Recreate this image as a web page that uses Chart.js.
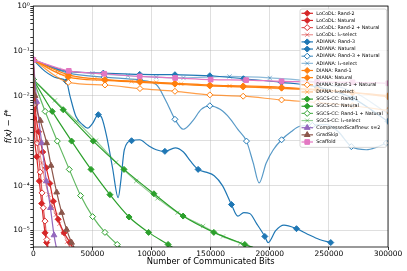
<!DOCTYPE html>
<html>
<head>
<meta charset="utf-8">
<script src="https://cdn.jsdelivr.net/npm/chart.js@4.4.1/dist/chart.umd.min.js"></script>
<style>
  html, body { margin: 0; padding: 0; background: #fff; }
  canvas { display: block; }
</style>
</head>
<body>
<canvas id="chart" width="407" height="271"></canvas>
<script>
// axis ticks
const xTicks = [0, 50000, 100000, 150000, 200000, 250000, 300000];
const yMin = 4.3e-6;
const yMax = 1;

const labels = [
  'LoCoDL: Rand-2', 'LoCoDL: Natural', 'LoCoDL: Rand-2 + Natural', 'LoCoDL: l\u2081-select',
  'ADIANA: Rand-3', 'ADIANA: Natural', 'ADIANA: Rand-3 + Natural', 'ADIANA: l\u2081-select',
  'DIANA: Rand-1', 'DIANA: Natural', 'DIANA: Rand-1 + Natural', 'DIANA: l\u2081-select',
  'SGCS-CC: Rand-1', 'SGCS-CC: Natural', 'SGCS-CC: Rand-1 + Natural', 'SGCS-CC: l\u2081-select',
  'CompressedScaffnew: s=2', 'GradSkip', 'Scaffold'
];

// LoCoDL
const locodlRandX = [0, 600, 2900, 5100, 7100, 9900, 11300, 12000];
const locodlRandY = [6.3e-2, 3.2e-3, 4.4e-4, 1.26e-4, 4.0e-5, 8.9e-6, 5.4e-6, 4.0e-6];
const locodlNatX = [0, 1500, 4500, 8000, 11000, 14000, 17000, 21000, 26000, 31000, 34000];
const locodlNatY = [6.3e-2, 6.3e-3, 1.58e-3, 5.6e-4, 2.5e-4, 1.12e-4, 4.5e-5, 1.78e-5, 8.9e-6, 5.4e-6, 3.8e-6];
const locodlBothX = [0, 800, 3400, 5900, 7400, 8500, 9900, 11500, 12700];
const locodlBothY = [6.3e-2, 6.3e-3, 8.9e-4, 2.0e-4, 6.9e-5, 3.2e-5, 1.62e-5, 6.3e-6, 4.0e-6];
const locodlL1X = [0, 1200, 4000, 7000, 10000, 13000, 16000, 19000, 22000, 25400, 28500, 31500];
const locodlL1Y = [6.3e-2, 5.0e-3, 1.0e-3, 3.2e-4, 1.26e-4, 6.3e-5, 3.5e-5, 2.24e-5, 1.41e-5, 8.9e-6, 5.6e-6, 4.0e-6];

// ADIANA
const adianaRandX = [0, 30000, 59200, 90000, 119800, 149300, 177700, 210000, 240000, 270000, 300000];
const adianaRandY = [6.3e-2, 3.5e-2, 3.2e-2, 3.0e-2, 2.95e-2, 2.8e-2, 2.4e-2, 2.0e-2, 1.58e-2, 8.9e-3, 2.7e-3];
const adianaNatX = [0, 10000, 20000, 28000, 31000, 36000, 42000, 46000, 50000, 55000, 58000, 62000, 67000, 71800,
  74000, 77000, 83100, 90000, 97000, 104000, 111300, 120000, 127000, 133000, 139400, 146000, 153000, 160000,
  167600, 173000, 178000, 183000, 189000, 195800, 198600, 205000, 212000, 222600, 232000, 242000, 251600];
const adianaNatY = [6.3e-2, 3.5e-2, 2.5e-2, 2.1e-2, 1.0e-2, 3.5e-3, 2.24e-3, 1.9e-3, 2.4e-3, 3.8e-3, 3.2e-3, 1.26e-3, 2.5e-4, 5.4e-5,
  1.26e-4, 6.3e-4, 1.0e-3, 1.05e-3, 7.9e-4, 6.3e-4, 5.8e-4, 6.9e-4, 5.6e-4, 3.5e-4, 2.3e-4, 2.0e-4, 1.66e-4, 1.0e-4,
  3.8e-5, 2.1e-5, 2.5e-5, 2.4e-5, 1.41e-5, 7.4e-6, 5.4e-6, 1.0e-5, 1.32e-5, 1.1e-5, 8.3e-6, 6.3e-6, 5.4e-6];
const adianaBothX = [0, 30000, 60000, 90000, 104000, 112000, 119800, 126800, 135000, 142000, 149300, 158000, 166000,
  173000, 180300, 186000, 191000, 197000, 203000, 210000, 218000, 225300, 236000, 248000, 258000, 269000, 281700, 290000, 298600];
const adianaBothY = [6.3e-2, 3.2e-2, 2.6e-2, 2.24e-2, 1.78e-2, 7.9e-3, 3.0e-3, 1.8e-3, 2.8e-3, 5.0e-3, 6.0e-3, 5.0e-3, 3.2e-3,
  1.78e-3, 9.8e-4, 3.2e-4, 1.15e-4, 3.2e-4, 6.3e-4, 1.05e-3, 1.58e-3, 2.1e-3, 2.2e-3, 2.3e-3, 1.58e-3, 7.4e-4, 6.3e-4, 7.1e-4, 8.9e-4];
const adianaL1X = [0, 21000, 50000, 80000, 104000, 127000, 166000, 200000, 240000, 270000, 300000];
const adianaL1Y = [6.3e-2, 3.8e-2, 3.2e-2, 2.8e-2, 2.6e-2, 2.5e-2, 2.7e-2, 2.5e-2, 2.0e-2, 1.26e-2, 4.0e-3];

// DIANA
const dianaX = [0, 29600, 60600, 90200, 119800, 149300, 177500, 210000, 240000, 270000, 300000];
const dianaRandY = [6.3e-2, 2.95e-2, 2.3e-2, 2.1e-2, 1.9e-2, 1.74e-2, 1.66e-2, 1.55e-2, 1.38e-2, 1.2e-2, 1.0e-2];
const dianaNatY = [6.3e-2, 2.6e-2, 2.2e-2, 2.0e-2, 1.82e-2, 1.66e-2, 1.58e-2, 1.48e-2, 1.35e-2, 1.17e-2, 9.5e-3];
const dianaBothY = [6.3e-2, 2.0e-2, 1.74e-2, 1.45e-2, 1.26e-2, 1.05e-2, 9.8e-3, 8.1e-3, 7.1e-3, 6.0e-3, 4.7e-3];
const dianaL1X = [0, 21000, 52000, 83100, 104000, 125000, 166000, 200000, 240000, 270000, 300000];
const dianaL1Y = [6.3e-2, 3.2e-2, 2.4e-2, 2.1e-2, 2.0e-2, 1.86e-2, 1.66e-2, 1.48e-2, 1.32e-2, 1.17e-2, 1.02e-2];

// SGCS-CC
const sgcsRandX = [0, 25300, 50700, 76700, 102000, 126700, 152700, 178900, 186000];
const sgcsRandY = [2.3e-2, 4.9e-3, 9.8e-4, 2.3e-4, 6.6e-5, 2.1e-5, 9.1e-6, 4.9e-6, 4.2e-6];
const sgcsNatX = [0, 16000, 32400, 48800, 64800, 81000, 97500, 114000, 118000];
const sgcsNatY = [2.3e-2, 4.5e-3, 9.8e-4, 2.3e-4, 6.3e-5, 2.0e-5, 9.1e-6, 4.9e-6, 4.2e-6];
const sgcsBothX = [0, 10000, 20300, 30400, 40000, 50200, 60600, 71000, 74000];
const sgcsBothY = [2.3e-2, 4.5e-3, 9.8e-4, 2.3e-4, 6.0e-5, 2.04e-5, 9.1e-6, 4.9e-6, 4.2e-6];
const sgcsL1X = [0, 18300, 36600, 53000, 70000, 87000, 105000, 122000, 143600, 160500, 175000, 186000];
const sgcsL1Y = [2.3e-2, 7.9e-3, 2.7e-3, 1.0e-3, 3.3e-4, 1.26e-4, 5.2e-5, 2.5e-5, 1.26e-5, 7.4e-6, 5.2e-6, 4.2e-6];

// others
const scaffnewX = [0, 2900, 7100, 11000, 14500, 17500, 19800];
const scaffnewY = [6.3e-2, 7.4e-3, 8.9e-4, 1.26e-4, 3.2e-5, 7.9e-6, 3.8e-6];
const gradskipX = [0, 1500, 6000, 11300, 15000, 19800, 24000, 28200, 32400, 35500];
const gradskipY = [6.3e-2, 1.0e-2, 2.8e-3, 8.9e-4, 2.8e-4, 7.1e-5, 2.5e-5, 1.05e-5, 5.4e-6, 3.8e-6];
const scaffoldX = [0, 30000, 60000, 90000, 120000, 150000, 180000, 210000, 240000, 270000, 300000];
const scaffoldY = [6.3e-2, 3.6e-2, 3.1e-2, 2.7e-2, 2.5e-2, 2.3e-2, 2.24e-2, 2.1e-2, 2.04e-2, 2.0e-2, 1.9e-2];

// which points carry a marker
const adianaNatMarks = [0, 3, 9, 16, 20, 24, 28, 33, 37, 40];
const adianaBothMarks = [0, 1, 2, 3, 6, 10, 14, 19, 22, 25, 28];

const RED = '#d62728', BLUE = '#1f77b4', ORANGE = '#ff7f0e', GREEN = '#2ca02c';
const PURPLE = '#9467bd', BROWN = '#8c564b', PINK = '#e377c2';

function rgba(hex, a) {
  const n = parseInt(hex.slice(1), 16);
  return `rgba(${n >> 16},${(n >> 8) & 255},${n & 255},${a})`;
}

const kinds = {
  rand:   c => ({ pointStyle: 'rectRot', r: 3, fill: c, edge: c, line: c }),
  nat:    c => ({ pointStyle: 'rectRot', r: 3, fill: c, edge: c, line: c }),
  both:   c => ({ pointStyle: 'rectRot', r: 3, fill: '#fff', edge: c, line: rgba(c, 0.75) }),
  l1:     c => ({ pointStyle: 'crossRot', r: 3, fill: rgba(c, 0.5), edge: rgba(c, 0.5), line: rgba(c, 0.5) }),
  star:   c => ({ pointStyle: 'triangle', r: 3.3, fill: c, edge: c, line: c }),
  square: c => ({ pointStyle: 'rect', r: 3.3, fill: c, edge: c, line: c })
};

function makeSet(i, xs, ys, color, kind, marks) {
  const k = kinds[kind](color);
  const keep = marks || xs.map((_, j) => j).filter(j => ys[j] >= yMin);
  return {
    label: labels[i],
    data: xs.map((x, j) => ({ x, y: ys[j] })),
    borderColor: k.line,
    borderWidth: 1.2,
    pointStyle: k.pointStyle,
    legendRadius: k.r,
    pointRadius: ctx => keep.includes(ctx.dataIndex) ? k.r : 0,
    pointHoverRadius: 0,
    pointBackgroundColor: k.fill,
    pointBorderColor: k.edge,
    pointBorderWidth: 1,
    cubicInterpolationMode: 'monotone',
    fill: false,
    order: labels.length - i
  };
}

const datasets = [
  makeSet(0, locodlRandX, locodlRandY, RED, 'rand'),
  makeSet(1, locodlNatX, locodlNatY, RED, 'nat'),
  makeSet(2, locodlBothX, locodlBothY, RED, 'both'),
  makeSet(3, locodlL1X, locodlL1Y, RED, 'l1'),
  makeSet(4, adianaRandX, adianaRandY, BLUE, 'rand'),
  makeSet(5, adianaNatX, adianaNatY, BLUE, 'nat', adianaNatMarks),
  makeSet(6, adianaBothX, adianaBothY, BLUE, 'both', adianaBothMarks),
  makeSet(7, adianaL1X, adianaL1Y, BLUE, 'l1'),
  makeSet(8, dianaX, dianaRandY, ORANGE, 'rand'),
  makeSet(9, dianaX, dianaNatY, ORANGE, 'nat'),
  makeSet(10, dianaX, dianaBothY, ORANGE, 'both'),
  makeSet(11, dianaL1X, dianaL1Y, ORANGE, 'l1'),
  makeSet(12, sgcsRandX, sgcsRandY, GREEN, 'rand'),
  makeSet(13, sgcsNatX, sgcsNatY, GREEN, 'nat'),
  makeSet(14, sgcsBothX, sgcsBothY, GREEN, 'both'),
  makeSet(15, sgcsL1X, sgcsL1Y, GREEN, 'l1'),
  makeSet(16, scaffnewX, scaffnewY, PURPLE, 'star'),
  makeSet(17, gradskipX, gradskipY, BROWN, 'star'),
  makeSet(18, scaffoldX, scaffoldY, PINK, 'square')
];

const SUP = { '-': '\u207b', '0': '\u2070', '1': '\u00b9', '2': '\u00b2', '3': '\u00b3', '4': '\u2074',
  '5': '\u2075', '6': '\u2076', '7': '\u2077', '8': '\u2078', '9': '\u2079' };
function isDecade(v) {
  const e = Math.log10(v);
  return Math.abs(e - Math.round(e)) < 1e-6;
}

// frame + legend inside the axes, like matplotlib
const insideLegend = {
  id: 'insideLegend',
  afterDatasetsDraw(chart) {
    const { ctx, chartArea: a } = chart;
    ctx.save();
    ctx.strokeStyle = '#000';
    ctx.lineWidth = 0.8;
    ctx.strokeRect(a.left, a.top, a.right - a.left, a.bottom - a.top);

    const sets = chart.data.datasets;
    const rowH = 7.15, w = 86.7;
    const x0 = a.right - w - 1.3, y0 = a.top + 3;
    const h = rowH * sets.length + 2.5;
    ctx.beginPath();
    ctx.roundRect(x0, y0, w, h, 2);
    ctx.fillStyle = 'rgba(255,255,255,0.8)';
    ctx.fill();
    ctx.strokeStyle = '#cccccc';
    ctx.stroke();

    ctx.font = '4.8px "DejaVu Sans"';
    ctx.textBaseline = 'middle';
    sets.forEach((ds, i) => {
      const y = y0 + 4.3 + rowH * i;
      ctx.strokeStyle = ds.borderColor;
      ctx.lineWidth = ds.borderWidth;
      ctx.beginPath();
      ctx.moveTo(x0 + 1.5, y);
      ctx.lineTo(x0 + 13, y);
      ctx.stroke();
      ctx.fillStyle = ds.pointBackgroundColor;
      ctx.strokeStyle = ds.pointBorderColor;
      ctx.lineWidth = 1;
      Chart.helpers.drawPoint(ctx, { pointStyle: ds.pointStyle, radius: ds.legendRadius, rotation: 0, borderWidth: 1 }, x0 + 7.2, y);
      ctx.fillStyle = '#000';
      ctx.fillText(ds.label, x0 + 16.3, y);
    });
    ctx.restore();
  }
};

new Chart(document.getElementById('chart'), {
  type: 'line',
  data: { datasets },
  options: {
    responsive: false,
    animation: false,
    devicePixelRatio: 1,
    layout: { padding: { top: 6, right: 19, left: 0, bottom: 0 } },
    plugins: { legend: { display: false }, tooltip: { enabled: false } },
    scales: {
      x: {
        type: 'linear',
        min: 0,
        max: 300000,
        afterFit: s => { s.height = 24; },
        afterBuildTicks: s => { s.ticks = xTicks.map(v => ({ value: v })); },
        grid: { color: 'rgba(176,176,176,0.5)', lineWidth: 0.8, tickColor: '#000', tickLength: 3 },
        border: { display: false },
        ticks: {
          color: '#000', padding: 0, maxRotation: 0, autoSkip: false,
          font: { family: 'DejaVu Sans', size: 7.5 },
          callback: v => String(v)
        },
        title: {
          display: true, text: 'Number of Communicated Bits', color: '#000',
          font: { family: 'DejaVu Sans', size: 8.3 }, padding: { top: 0, bottom: 4.3 }
        }
      },
      y: {
        type: 'logarithmic',
        min: yMin,
        max: yMax,
        afterFit: s => { s.width = 33.3; },
        grid: {
          color: c => (c.tick && isDecade(c.tick.value)) ? 'rgba(176,176,176,0.5)' : 'rgba(0,0,0,0)',
          lineWidth: 0.8, tickColor: '#000', tickLength: 3
        },
        border: { display: false },
        ticks: {
          color: '#000', padding: 0.5, autoSkip: false,
          font: { family: 'DejaVu Sans', size: 7.5 },
          callback: v => isDecade(v)
            ? '10' + String(Math.round(Math.log10(v))).split('').map(ch => SUP[ch]).join('')
            : ''
        },
        title: {
          display: true, text: 'f(x) \u2212 f*', color: '#000',
          font: { family: 'DejaVu Sans', size: 8.3, style: 'italic' }, padding: { top: 4, bottom: 0 }
        }
      }
    }
  },
  plugins: [insideLegend]
});
</script>
</body>
</html>
